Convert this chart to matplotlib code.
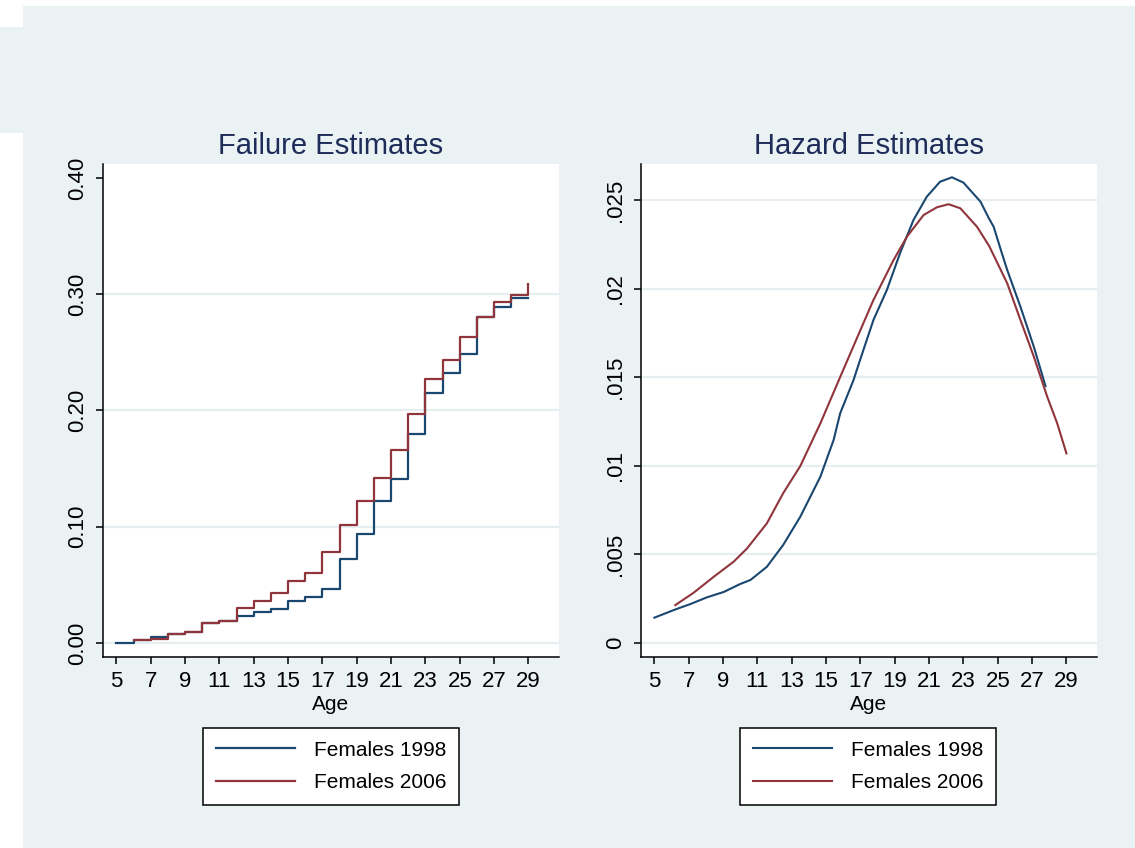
import numpy as np
import matplotlib
matplotlib.use("Agg")
import matplotlib.pyplot as plt
from matplotlib.patches import Rectangle

plt.rcParams["font.family"] = ["Liberation Sans", "DejaVu Sans"]

# Kaplan-Meier failure estimates by single year of age
fail_age_1998 = [5, 6, 7, 8, 9, 10, 11, 12, 13, 14, 15, 16, 17, 18, 19, 20, 21, 22, 23, 24, 25, 26, 27, 28, 29]
fail_1998 = [0.0, 0.0028, 0.005, 0.0077, 0.0097, 0.017, 0.019, 0.0235, 0.0267, 0.0295, 0.0358, 0.0392,
             0.0465, 0.0719, 0.0935, 0.1224, 0.141, 0.180, 0.215, 0.232, 0.2483, 0.2806, 0.2892, 0.297, 0.297]
fail_age_2006 = [6, 7, 8, 9, 10, 11, 12, 13, 14, 15, 16, 17, 18, 19, 20, 21, 22, 23, 24, 25, 26, 27, 28, 29]
fail_2006 = [0.0028, 0.0037, 0.0077, 0.0097, 0.017, 0.019, 0.030, 0.036, 0.043, 0.053, 0.060, 0.078,
             0.1018, 0.1224, 0.1417, 0.166, 0.197, 0.227, 0.2434, 0.263, 0.2806, 0.293, 0.2997, 0.309]

# smoothed hazard estimates
haz_age_1998 = [5.0, 6.13, 7.1, 8.07, 9.04, 10.0, 10.6, 11.55, 12.5, 13.5, 14.67, 15.44, 15.82, 16.6,
                16.98, 17.76, 18.54, 19.31, 20.09, 20.87, 21.64, 22.33, 23.0, 23.99, 24.48, 24.76,
                25.15, 25.55, 26.32, 27.1, 27.78]
haz_1998 = [0.00143, 0.00186, 0.0022, 0.00258, 0.00288, 0.00333, 0.00356, 0.0043, 0.00553, 0.00713,
            0.00939, 0.01146, 0.01296, 0.01484, 0.01597, 0.01823, 0.01992, 0.022, 0.02387, 0.02519,
            0.02603, 0.02628, 0.02598, 0.02491, 0.02397, 0.02349, 0.02227, 0.02105, 0.01898, 0.01672,
            0.0145]
haz_age_2006 = [6.22, 7.29, 8.46, 9.62, 10.4, 11.55, 12.5, 13.5, 14.67, 15.83, 17.0, 17.76, 18.93,
                19.71, 20.68, 21.46, 22.14, 22.82, 23.79, 24.5, 25.15, 25.55, 26.32, 27.1, 27.88,
                28.46, 29.0]
haz_2006 = [0.00214, 0.00284, 0.00374, 0.00459, 0.00534, 0.00675, 0.00845, 0.00999, 0.0124, 0.01503,
            0.01766, 0.01936, 0.02161, 0.02293, 0.02415, 0.02459, 0.02476, 0.02453, 0.02349, 0.0224,
            0.0211, 0.0203, 0.01823, 0.01616, 0.0139, 0.0124, 0.0107]

series_labels = ["Females 1998", "Females 2006"]
age_ticks = list(range(5, 30, 2))
fail_ticks = [0.0, 0.1, 0.2, 0.3, 0.4]
fail_ticklabels = ["0.00", "0.10", "0.20", "0.30", "0.40"]
haz_ticks = [0.0, 0.005, 0.01, 0.015, 0.02, 0.025]
haz_ticklabels = ["0", ".005", ".01", ".015", ".02", ".025"]

NAVY = "#1a476f"
MAROON = "#90353b"
BG = "#eaf2f3"
GRID = "#e6eef1"
TITLE = "#1e2c5a"

fig = plt.figure(figsize=(11.35, 8.48), dpi=100, facecolor="white")
fig.patches.append(Rectangle((23 / 1135, 0), 1, 1 - 6 / 848, transform=fig.transFigure,
                             facecolor=BG, edgecolor="none", zorder=-10))
fig.patches.append(Rectangle((0, 1 - 133 / 848), 24 / 1135, 106 / 848, transform=fig.transFigure,
                             facecolor=BG, edgecolor="none", zorder=-10))

ax1 = fig.add_axes([103 / 1135, 1 - 657 / 848, 456 / 1135, 493 / 848])
ax2 = fig.add_axes([641 / 1135, 1 - 657 / 848, 456 / 1135, 493 / 848])


def style_axis(ax, yticks, yticklabels, ylim, title):
    ax.set_facecolor("white")
    for s in ["top", "right"]:
        ax.spines[s].set_visible(False)
    for s in ["left", "bottom"]:
        ax.spines[s].set_linewidth(1.1)
        ax.spines[s].set_color("black")
    ax.set_xlim(4.22, 30.78)
    ax.set_ylim(*ylim)
    ax.set_xticks(age_ticks)
    ax.set_yticks(yticks)
    ax.set_yticklabels(yticklabels, rotation=90, va="center")
    ax.tick_params(length=5, width=1.1, labelsize=16, pad=5)
    ax.tick_params(axis="y", pad=6)
    for v in yticks:
        if v < ylim[1] - (ylim[1] - ylim[0]) * 0.04:
            ax.axhline(v, color=GRID, lw=1.6, zorder=0)
    ax.set_xlabel("Age", fontsize=15, labelpad=2)
    ax.set_title(title, fontsize=21, color=TITLE, pad=7)


style_axis(ax1, fail_ticks, fail_ticklabels, (-0.012, 0.412), "Failure Estimates")
ax1.plot(fail_age_1998, fail_1998, drawstyle="steps-post", color=NAVY, lw=1.6, label=series_labels[0])
ax1.plot(fail_age_2006, fail_2006, drawstyle="steps-post", color=MAROON, lw=1.6, label=series_labels[1])

style_axis(ax2, haz_ticks, haz_ticklabels, (-0.00079, 0.02703), "Hazard Estimates")
ax2.plot(haz_age_1998, haz_1998, color=NAVY, lw=1.5, label=series_labels[0])
ax2.plot(haz_age_2006, haz_2006, color=MAROON, lw=1.5, label=series_labels[1])

for ax, cx in [(ax1, 331 / 1135), (ax2, 868 / 1135)]:
    leg = ax.legend(loc="upper center", bbox_to_anchor=(cx, 1 - 728 / 848),
                    bbox_transform=fig.transFigure, fontsize=15, frameon=True, fancybox=False,
                    edgecolor="black", facecolor="white", framealpha=1, handlelength=3.8,
                    handletextpad=0.9, borderpad=0.6, labelspacing=0.65, borderaxespad=0)
    leg.get_frame().set_linewidth(1.1)

fig.savefig("out.png", dpi=100, facecolor=fig.get_facecolor())
